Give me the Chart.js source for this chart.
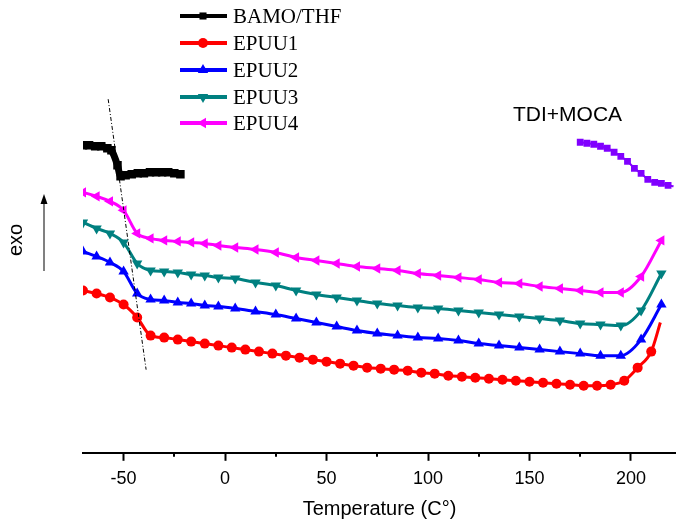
<!DOCTYPE html>
<html>
<head>
<meta charset="utf-8">
<script src="https://cdn.jsdelivr.net/npm/chart.js@4.4.1/dist/chart.umd.min.js"></script>
<style>
  html, body { margin: 0; padding: 0; background: #fff; }
</style>
</head>
<body>
<canvas id="dsc-chart" width="676" height="521"></canvas>
<script>
// DSC curves, temperature in C, heat flow in arbitrary (offset) units
const tempBAMO = [-70, -67, -64, -61, -58, -56, -53, -51.5, -49, -46, -43, -40, -37, -34, -31, -28, -25, -22];
const flowBAMO = [30.7, 30.7, 30.6, 30.6, 30.4, 30.2, 28.7, 27.6, 27.7, 27.8, 27.9, 27.9, 28.0, 28.0, 28.0, 28.0, 27.9, 27.8];

const tempEPUU1 = [-70, -63.3, -56.7, -50, -43.3, -36.7, -30, -23.3, -16.7, -10, -3.3, 3.3, 10, 16.7, 23.3, 30, 36.7, 43.3, 50, 56.7, 63.3, 70, 76.7, 83.3, 90, 96.7, 103.3, 110, 116.7, 123.3, 130, 136.7, 143.3, 150, 156.7, 163.3, 170, 176.7, 183.3, 190, 196.7, 203.3, 210, 214.5];
const flowEPUU1 = [16.2, 15.9, 15.5, 14.8, 13.5, 11.7, 11.5, 11.3, 11.1, 10.9, 10.7, 10.5, 10.3, 10.1, 9.9, 9.7, 9.5, 9.3, 9.1, 8.9, 8.7, 8.5, 8.4, 8.3, 8.2, 8.0, 7.9, 7.7, 7.6, 7.5, 7.4, 7.3, 7.2, 7.1, 7.0, 6.9, 6.8, 6.7, 6.7, 6.8, 7.2, 8.5, 10.1, 13.0];

// EPUU2-4 share the same temperature points
const tempEPUU = [-70, -63.3, -56.7, -50, -43.3, -36.7, -30, -23.3, -16.7, -10, -3.3, 5, 15, 25, 35, 45, 55, 65, 75, 85, 95, 105, 115, 125, 135, 145, 155, 165, 175, 185, 195, 205, 215];
const flowEPUU2 = [20.1, 19.6, 19.0, 18.1, 15.9, 15.3, 15.2, 15.0, 14.9, 14.7, 14.6, 14.4, 14.1, 13.8, 13.4, 13.0, 12.6, 12.2, 11.9, 11.7, 11.5, 11.4, 11.2, 10.9, 10.7, 10.5, 10.3, 10.1, 9.9, 9.7, 9.7, 11.3, 14.8];
const flowEPUU3 = [23.0, 22.4, 21.9, 21.0, 18.9, 18.2, 18.1, 18.0, 17.8, 17.7, 17.5, 17.4, 17.0, 16.7, 16.2, 15.8, 15.5, 15.2, 14.9, 14.7, 14.5, 14.4, 14.2, 14.0, 13.8, 13.6, 13.4, 13.2, 12.9, 12.8, 12.7, 14.2, 17.9];
const flowEPUU4 = [26.0, 25.6, 25.1, 24.2, 21.9, 21.4, 21.2, 21.1, 21.0, 20.9, 20.7, 20.5, 20.3, 20.0, 19.5, 19.2, 18.9, 18.6, 18.4, 18.2, 17.9, 17.7, 17.5, 17.3, 17.0, 16.9, 16.6, 16.4, 16.2, 16.0, 16.0, 17.6, 21.2];

const tempTDI = [175, 178.3, 181.7, 185, 188.3, 191.7, 195, 198.3, 201.7, 205, 208.3, 211.7, 215, 218.3, 221];
const flowTDI = [31.0, 30.9, 30.8, 30.6, 30.4, 30.0, 29.6, 29.1, 28.4, 27.9, 27.3, 27.0, 26.9, 26.7, 26.6];

// Tg guide line (dash-dot)
const guideTemp = [-57.6, -38.9];
const guideFlow = [35.3, 8.3];

const xTicks = [-50, 0, 50, 100, 150, 200];
const xMinorTicks = [-25, 25, 75, 125, 175];

const fontSans = '"Liberation Sans", Arial, sans-serif';
const fontSerif = '"Liberation Serif", "Times New Roman", serif';

function toPoints(xs, ys) {
    return xs.map((x, i) => ({ x: x, y: ys[i] }));
}

// hide the marker on the last point (line tail only)
function radiusNoTail(r) {
    return ctx => ctx.dataIndex === ctx.dataset.data.length - 1 ? 0 : r;
}

const series = [
    { label: 'BAMO/THF', color: '#000000', style: 'rect', rotation: 0, radius: 5 },
    { label: 'EPUU1', color: '#ff0000', style: 'circle', rotation: 0, radius: 5 },
    { label: 'EPUU2', color: '#0000ff', style: 'triangle', rotation: 0, radius: 6 },
    { label: 'EPUU3', color: '#008080', style: 'triangle', rotation: 180, radius: 6 },
    { label: 'EPUU4', color: '#ff00ff', style: 'triangle', rotation: -90, radius: 6 }
];

const data = {
    datasets: [
        {
            label: 'guide',
            data: toPoints(guideTemp, guideFlow),
            borderColor: '#000',
            borderWidth: 1,
            borderDash: [4, 2, 1, 2],
            pointRadius: 0
        },
        {
            label: 'BAMO/THF',
            data: toPoints(tempBAMO, flowBAMO),
            borderColor: '#000',
            backgroundColor: '#000',
            borderWidth: 7,
            pointStyle: 'rect',
            pointRadius: 6,
            pointBorderWidth: 0
        },
        {
            label: 'EPUU1',
            data: toPoints(tempEPUU1, flowEPUU1),
            borderColor: '#ff0000',
            backgroundColor: '#ff0000',
            borderWidth: 3,
            pointStyle: 'circle',
            pointRadius: radiusNoTail(5),
            pointBorderWidth: 0
        },
        {
            label: 'EPUU2',
            data: toPoints(tempEPUU, flowEPUU2),
            borderColor: '#0000ff',
            backgroundColor: '#0000ff',
            borderWidth: 3,
            pointStyle: 'triangle',
            pointRadius: 6,
            pointBorderWidth: 0
        },
        {
            label: 'EPUU3',
            data: toPoints(tempEPUU, flowEPUU3),
            borderColor: '#008080',
            backgroundColor: '#008080',
            borderWidth: 3,
            pointStyle: 'triangle',
            rotation: 180,
            pointRadius: 6,
            pointBorderWidth: 0
        },
        {
            label: 'EPUU4',
            data: toPoints(tempEPUU, flowEPUU4),
            borderColor: '#ff00ff',
            backgroundColor: '#ff00ff',
            borderWidth: 3,
            pointStyle: 'triangle',
            rotation: -90,
            pointRadius: 6,
            pointBorderWidth: 0
        },
        {
            label: 'TDI+MOCA',
            data: toPoints(tempTDI, flowTDI),
            borderColor: '#8000ff',
            backgroundColor: '#8000ff',
            borderWidth: 2,
            pointStyle: 'rect',
            pointRadius: radiusNoTail(4.8),
            pointBorderWidth: 0
        }
    ]
};

// legend, labels, exo arrow and minor ticks
const decorations = {
    id: 'decorations',
    afterDraw(chart) {
        const ctx = chart.ctx;
        const xScale = chart.scales.x;
        const bottom = chart.chartArea.bottom;

        ctx.save();
        // minor ticks
        ctx.strokeStyle = '#000';
        ctx.lineWidth = 2;
        xMinorTicks.forEach(v => {
            const px = Math.round(xScale.getPixelForValue(v));
            ctx.beginPath();
            ctx.moveTo(px, bottom);
            ctx.lineTo(px, bottom + 4);
            ctx.stroke();
        });

        // legend
        const rowY = [16, 43, 70, 97, 123];
        series.forEach((s, i) => {
            const y = rowY[i];
            ctx.strokeStyle = s.color;
            ctx.fillStyle = s.color;
            ctx.lineWidth = 4;
            ctx.beginPath();
            ctx.moveTo(180, y);
            ctx.lineTo(227, y);
            ctx.stroke();
            Chart.helpers.drawPoint(ctx, {
                pointStyle: s.style,
                rotation: s.rotation,
                radius: s.radius,
                borderWidth: 0
            }, 203, y);
            ctx.fillStyle = '#000';
            ctx.font = '21px ' + fontSerif;
            ctx.textBaseline = 'middle';
            ctx.textAlign = 'left';
            ctx.fillText(s.label, 233, y + 1);
        });

        // TDI+MOCA label
        ctx.fillStyle = '#000';
        ctx.font = '21px ' + fontSans;
        ctx.textBaseline = 'middle';
        ctx.fillText('TDI+MOCA', 513, 115);

        // exo label with arrow
        ctx.save();
        ctx.translate(16, 240);
        ctx.rotate(-Math.PI / 2);
        ctx.textAlign = 'center';
        ctx.font = '20px ' + fontSans;
        ctx.fillText('exo', 0, 0);
        ctx.restore();

        ctx.strokeStyle = '#808080';
        ctx.lineWidth = 2;
        ctx.beginPath();
        ctx.moveTo(44, 271);
        ctx.lineTo(44, 202);
        ctx.stroke();
        ctx.fillStyle = '#000';
        ctx.beginPath();
        ctx.moveTo(44, 194);
        ctx.lineTo(40.5, 204);
        ctx.lineTo(47.5, 204);
        ctx.closePath();
        ctx.fill();
        ctx.restore();
    }
};

const config = {
    type: 'line',
    data: data,
    options: {
        responsive: false,
        animation: false,
        layout: {
            autoPadding: false,
            padding: { left: 83, right: 0, top: 0, bottom: 0 }
        },
        elements: {
            line: { cubicInterpolationMode: 'monotone' }
        },
        plugins: {
            legend: { display: false },
            tooltip: { enabled: false }
        },
        scales: {
            x: {
                type: 'linear',
                min: -70,
                max: 222.2,
                afterBuildTicks: scale => {
                    scale.ticks = xTicks.map(v => ({ value: v }));
                },
                border: { display: true, color: '#000', width: 2 },
                grid: {
                    display: true,
                    drawOnChartArea: false,
                    drawTicks: true,
                    tickLength: 8,
                    tickWidth: 2,
                    tickColor: '#000'
                },
                ticks: {
                    color: '#000',
                    padding: 7,
                    maxRotation: 0,
                    font: { family: fontSans, size: 18 }
                },
                title: {
                    display: true,
                    text: 'Temperature (C°)',
                    color: '#000',
                    font: { family: fontSans, size: 20 },
                    padding: { top: 0.6, bottom: 0 }
                }
            },
            y: {
                display: false,
                min: 0,
                max: 45.2
            }
        }
    },
    plugins: [decorations]
};

const ctxDsc = document.getElementById('dsc-chart');
new Chart(ctxDsc, config);
</script>
</body>
</html>
